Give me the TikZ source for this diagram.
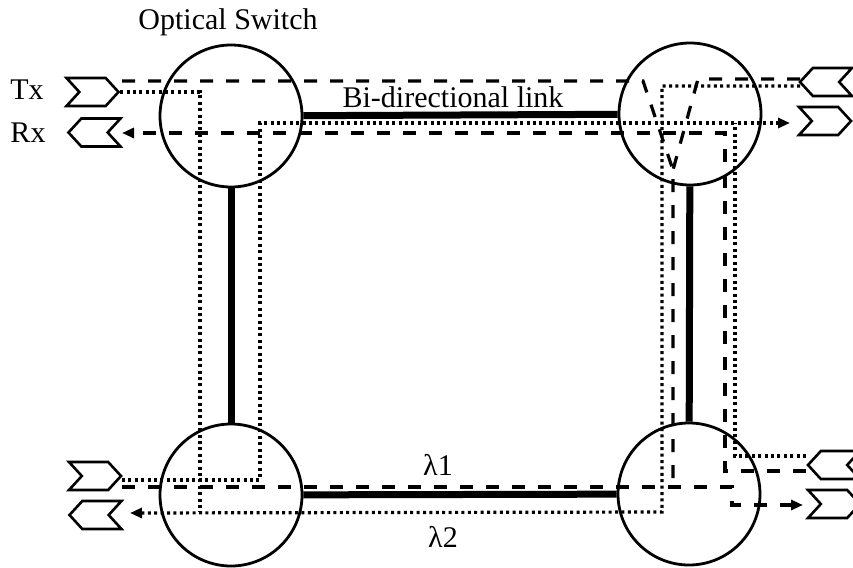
\documentclass[tikz,border=0pt]{standalone}
\usepackage{fontspec}
\setmainfont{Liberation Serif}
\usetikzlibrary{shapes.symbols,arrows.meta}
\begin{document}
\begin{tikzpicture}[x=1pt,y=-1pt,
  sw/.style={circle,draw,line width=2.8pt,minimum size=142pt,inner sep=0pt},
  link/.style={line width=7pt},
  lamA/.style={line width=3.2pt,dash pattern=on 13pt off 13pt},
  lamB/.style={line width=3.2pt,dash pattern=on 3pt off 3.4pt},
  port/.style={signal,draw,line width=2.6pt,minimum width=52pt,minimum height=28pt,inner sep=0pt,signal pointer angle=95},
  txs/.style={port,signal from=west,signal to=east},
  rxs/.style={port,signal from=east,signal to=west},
  lbl/.style={font=\fontsize{30}{36}\selectfont,anchor=base,inner sep=0pt},
  tip/.style={-{Triangle[length=12pt,width=10pt]}}
]
\useasboundingbox (0,0) rectangle (853,567);
% switches
\node[sw] (tl) at (231,116) {};
\node[sw] (tr) at (690,114) {};
\node[sw] (bl) at (231,495) {};
\node[sw] (br) at (689,494) {};
% links
\draw[link] (tl) -- (tr);
\draw[link] (tl) -- (bl);
\draw[link] (tr) -- (br);
\draw[link] (bl) -- (br);
% ports
\node[txs] (txTL) at (92.5,92) {};
\node[rxs] (rxTL) at (94.5,132.5) {};
\node[txs] (txBL) at (95,476) {};
\node[rxs] (rxBL) at (95.5,515) {};
\node[rxs] (txTR) at (826,82) {};
\node[txs] (rxTR) at (825,121) {};
\node[rxs] (txBR) at (834,465) {};
\node[txs] (rxBR) at (834,504) {};
% arrow targets
\coordinate (tipTL) at (122,133);
\coordinate (tipBL) at (130,513);
\coordinate (tipTR) at (790,123);
\coordinate (tipBR) at (803,505);
% lambda 1 (dashed)
\draw[lamA] (122,81) -- (643,81) -- (673,170) -- (673,487);
\draw[lamA] (800,79) -- (698,79) -- (673,170);
\draw[lamA,tip] (122,487) -- (732,487) -- (732,505) -- (tipBR);
\draw[lamA,tip] (806,471) -- (725,471) -- (725,133) -- (tipTL);
% lambda 2 (dotted)
\draw[lamB] (txTL.east) -- (200,92) -- (200,512);
\draw[lamB,tip] (122,480) -- (260,480) -- (260,123) -- (tipTR);
\draw[lamB] (806,456) -- (735,456) -- (735,123);
\draw[lamB,tip] (800,86) -- (662,86) -- (662,512) -- (tipBL);
% labels
\node[lbl] (title) at (228,30) {Optical Switch};
\node[lbl] (tx) at (27,100) {Tx};
\node[lbl] (rx) at (28,142) {Rx};
\node[lbl] (bidi) at (453,107) {Bi-directional link};
\node[lbl] (l1) at (438,475) {λ1};
\node[lbl] (l2) at (443,547) {λ2};
\end{tikzpicture}
\end{document}
